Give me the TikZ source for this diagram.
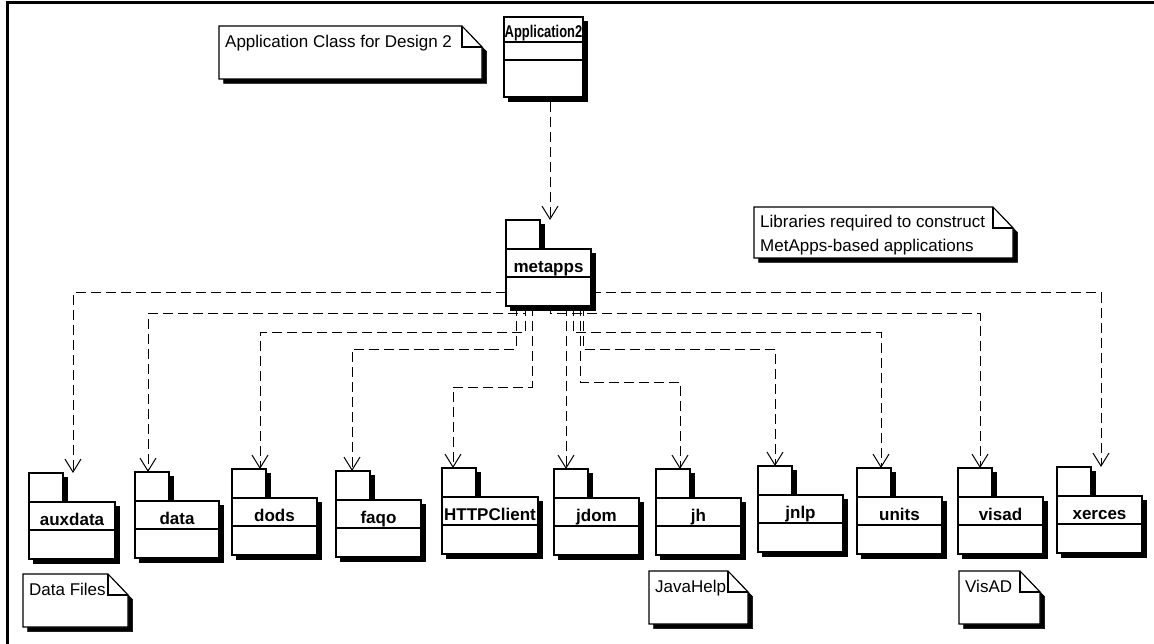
\documentclass[tikz,border=0pt]{standalone}
\usepackage{fontspec}
\usepackage{graphicx}
\setmainfont{Liberation Sans}
\usetikzlibrary{arrows.meta,fit}
\tikzset{
  box/.style={draw=black, fill=white, line width=1.1pt},
  shadowfill/.style={draw=black, fill=black, line width=0.5pt},
  pkgname/.style={font=\bfseries\fontsize{17}{20}\selectfont, inner sep=0pt},
  notetext/.style={font=\fontsize{17}{24}\selectfont, inner sep=0pt, align=left},
  dep/.style={line width=1pt, dash pattern=on 10pt off 5pt,
    -{Straight Barb[length=13pt,width=16pt,line width=1pt]}},
  frameline/.style={line width=3pt},
}
\newcommand{\pkgshape}[5]{%
  \path[shadowfill] ({#2+4.5},{#4+4.5}) rectangle ({#2+38.5},{#4+33});
  \path[shadowfill] ({#2+4.5},{#4+33}) rectangle ({#3+4.5},{#4+90.5});
  \draw[box] ({#2},{#4}) rectangle ({#2+34},{#4+29});
  \draw[box] ({#2},{#4+29}) rectangle ({#3},{#4+86});
  \draw[line width=1.1pt] ({#2},{#4+57}) -- ({#3},{#4+57});
  \coordinate (#1-nw) at ({#2},{#4});
  \coordinate (#1-se) at ({#3},{#4+86});
  \node[fit=(#1-nw)(#1-se), inner sep=0pt, outer sep=0pt] (#1) {};
  \node[pkgname, anchor=base] at ({(#2+#3)/2},{#4+52.5}) {#5};
}
\newcommand{\noteshape}[7]{%
  \path[shadowfill] ({#2+4.5},{#3+4.5}) -- ({#4-15.5},{#3+4.5}) -- ({#4+4.5},{#3+25.5}) -- ({#4+4.5},{#5+4.5}) -- ({#2+4.5},{#5+4.5}) -- cycle;
  \draw[box] ({#2},{#3}) -- ({#4-20},{#3}) -- ({#4},{#3+21}) -- ({#4},{#5}) -- ({#2},{#5}) -- cycle;
  \draw[line width=1.1pt] ({#4-20},{#3}) -- ({#4-20},{#3+21}) -- ({#4},{#3+21});
  \coordinate (#1-nw) at ({#2},{#3});
  \coordinate (#1-se) at ({#4},{#5});
  \node[fit=(#1-nw)(#1-se), inner sep=0pt, outer sep=0pt] (#1) {};
  \node[notetext, anchor=base west] at ({#2+6},{#3+#7}) {#6};
}
\begin{document}
\begin{tikzpicture}[x=1pt,y=-1pt]
\useasboundingbox (0,0) rectangle (1154,644);
% frame
\draw[frameline] (6,2.5) -- (1154,2.5);
\draw[frameline] (7.5,1) -- (7.5,644);

% Application2 class
\path[shadowfill] (508.5,21.5) rectangle (587.5,101.5);
\node[box, minimum width=79pt, minimum height=80pt, inner sep=0pt, outer sep=0pt, anchor=north west] (app) at (504,17) {};
\draw[line width=1.1pt] (504,42) -- (583,42);
\draw[line width=1.1pt] (504,60) -- (583,60);
\node[pkgname, anchor=base] at (543.5,37.5) {\scalebox{0.76}[1]{\fontsize{17}{18}\selectfont Application2}};

% notes
\noteshape{noteapp}{219}{26}{482}{79}{Application Class for Design 2}{21.5}
\noteshape{notelib}{754}{207}{1013}{258}{Libraries required to construct\\MetApps-based applications}{45}
\noteshape{notedata}{23}{574}{128}{627}{Data Files}{21.5}
\noteshape{notejh}{649}{571}{748}{624}{JavaHelp}{21.5}
\noteshape{notevisad}{959}{571}{1040}{624}{VisAD}{21.5}

% packages
\pkgshape{metapps}{506}{591}{220}{metapps}
\pkgshape{auxdata}{29}{115}{473}{auxdata}
\pkgshape{data}{135}{219}{472}{data}
\pkgshape{dods}{232}{317}{469}{dods}
\pkgshape{faqo}{336}{421}{471}{faqo}
\pkgshape{http}{442}{538}{468}{HTTPClient}
\pkgshape{jdom}{554}{639}{469}{jdom}
\pkgshape{jh}{656}{741}{469}{jh}
\pkgshape{jnlp}{758}{843}{466}{jnlp}
\pkgshape{units}{857}{942}{468}{units}
\pkgshape{visad}{958}{1043}{468}{visad}
\pkgshape{xerces}{1057}{1142}{467}{xerces}

% dependencies
\draw[dep] (app.south -| 550,0) ++(0,5) -- (metapps.north -| 550,0);
\draw[dep] (metapps.west |- 0,293) -| (auxdata.north -| 73,0);
\draw[dep] (metapps.south -| 525,0) -- ++(0,8) -| (data.north -| 148,0);
\draw[dep] (metapps.south -| 525,0) -- ++(0,27) -| (dods.north -| 260,0);
\draw[dep] (metapps.south -| 516,0) -- ++(0,43) -| (faqo.north -| 352,0);
\draw[dep] (metapps.south -| 532,0) -- ++(0,81) -| (http.north -| 453,0);
\draw[dep] (metapps.south -| 566,0) -- (jdom.north -| 566,0);
\draw[dep] (metapps.south -| 580,0) -- ++(0,76) -| (jh.north -| 680,0);
\draw[dep] (metapps.south -| 583,0) -- ++(0,43) -| (jnlp.north -| 775,0);
\draw[dep] (metapps.south -| 573,0) -- ++(0,27) -| (units.north -| 881,0);
\draw[dep] (metapps.south -| 550,0) -- ++(0,8) -| (visad.north -| 980,0);
\draw[dep] (metapps.east |- 0,293) -| (xerces.north -| 1101,0);
\end{tikzpicture}
\end{document}
